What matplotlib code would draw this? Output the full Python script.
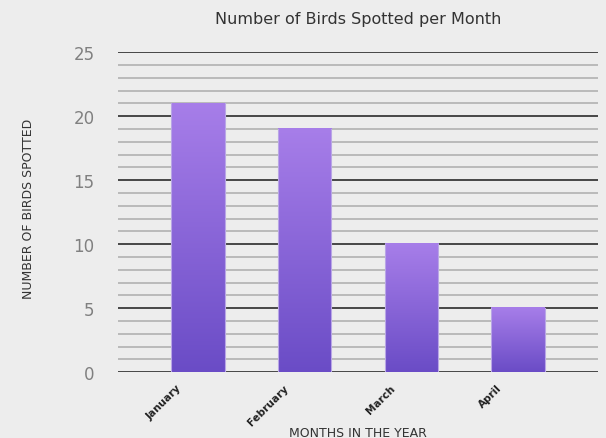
import numpy as np
import matplotlib.pyplot as plt
import matplotlib.transforms as mtrans
from matplotlib.colors import LinearSegmentedColormap

months = ["January", "February", "March", "April"]
birds = [21, 19, 10, 5]

fig = plt.figure(figsize=(6.06, 4.39), dpi=100)
fig.patch.set_facecolor("#ededed")
ax = fig.add_axes([0.195, 0.150, 0.792, 0.729])
ax.set_facecolor("#ededed")

# grid lines: light every 1, dark every 5
for y in range(0, 26):
    if y % 5 == 0:
        ax.axhline(y, color="#2b2b2b", lw=1.2, zorder=1)
    else:
        ax.axhline(y, color="#acacac", lw=1.1, zorder=1)

cmap = LinearSegmentedColormap.from_list("purp", ["#6a4cc6", "#a77ee9"])
grad = np.linspace(0, 1, 256).reshape(-1, 1)
width = 0.5
x = np.arange(len(months))
bars = ax.bar(x, birds, width=width, color="none", zorder=2)
for b in bars:
    x0, w, h = b.get_x(), b.get_width(), b.get_height()
    ax.imshow(grad, cmap=cmap, aspect="auto", origin="lower",
              extent=[x0, x0 + w, 0, h], zorder=2)
    ax.plot([x0, x0], [0, h], color="#b9a6e6", lw=0.8, zorder=3)
    ax.plot([x0 + w, x0 + w], [0, h], color="#b9a6e6", lw=0.8, zorder=3)

ax.set_xlim(-0.75, 3.75)
ax.set_ylim(0, 25)
ax.set_yticks([0, 5, 10, 15, 20, 25])
ax.set_yticklabels(["0", "5", "10", "15", "20", "25"], color="#808080", fontsize=12)
ax.set_xticks(x)
ax.set_xticklabels([])
ax.tick_params(axis="y", length=0, pad=17)
ax.tick_params(axis="x", length=0)
for s in ax.spines.values():
    s.set_visible(False)

# month labels, shifted left of the bar centre like the original
trans = ax.get_xaxis_transform() + mtrans.ScaledTranslation(-0.18, -0.14, fig.dpi_scale_trans)
for xi, m in zip(x, months):
    ax.text(xi, 0, m, transform=trans, rotation=45, ha="right", va="center",
            rotation_mode="anchor", fontsize=7.5, fontweight="bold", color="#222222")

fig.text(0.591, 0.955, "Number of Birds Spotted per Month", ha="center", va="center",
         fontsize=11.5, color="#333333")
fig.text(0.047, 0.524, "NUMBER OF BIRDS SPOTTED", rotation=90, ha="center", va="center",
         fontsize=9, color="#333333")
fig.text(0.591, 0.012, "MONTHS IN THE YEAR", ha="center", va="center",
         fontsize=9, color="#333333")

fig.savefig("out.png", dpi=100, facecolor=fig.get_facecolor())
